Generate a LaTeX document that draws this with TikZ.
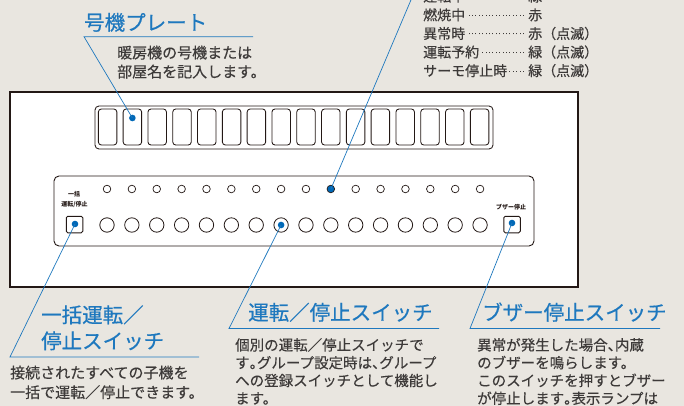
\documentclass[tikz,border=0pt]{standalone}
\usepackage{fontspec}
\setmainfont{Noto Sans CJK JP}
\newfontfamily\jptitle{Noto Sans CJK JP}[FakeBold=0.5]
\newfontfamily\jptext{Noto Sans CJK JP}[FakeBold=0.3]
\XeTeXlinebreaklocale "ja"
\XeTeXlinebreakskip=0pt plus 6pt
\definecolor{bg}{HTML}{E9E6E0}
\definecolor{accent}{HTML}{1E78BE}
\definecolor{dotblue}{HTML}{0068B7}
\definecolor{ink}{HTML}{3D3A39}
\definecolor{frame}{HTML}{231815}
\newcommand\hw[1]{\makebox[.5em][l]{#1}}
\newcommand\lampline[2]{\makebox[105pt][l]{#1\leaders\hbox to 3.4pt{\hss\rule[4.3pt]{1.1pt}{1.1pt}\hss}\hfill}#2}
\tikzset{
  title/.style={anchor=base west, text=accent, font=\jptitle\fontsize{20.5}{20.5}\selectfont, inner sep=0pt},
  desc/.style={anchor=base west, text=ink, font=\jptext\fontsize{15}{15}\selectfont, inner sep=0pt},
  descs/.style={anchor=base west, text=ink, font=\jptext\fontsize{14.5}{14.5}\selectfont, inner sep=0pt},
  lamptext/.style={anchor=base west, text=ink, font=\jptext\fontsize{14}{14}\selectfont, inner sep=0pt},
  tiny/.style={text=frame, font=\bfseries\fontsize{6}{6}\selectfont, inner sep=0pt},
  leader/.style={draw=accent, line width=0.7pt},
  panelframe/.style={draw=frame, line width=1.6pt, fill=white},
  plateframe/.style={draw=frame, line width=0.85pt, rounded corners=4pt},
  plate/.style={draw=frame, line width=0.85pt, rounded corners=3pt, minimum width=18.5pt, minimum height=36pt, inner sep=0pt},
  lampframe/.style={draw=frame, line width=0.9pt, rounded corners=5pt},
  lamp/.style={circle, draw=frame, line width=0.7pt, minimum size=7.6pt, inner sep=0pt},
  btn/.style={circle, draw=frame, line width=0.8pt, minimum size=14.4pt, inner sep=0pt},
  sqbtn/.style={draw=frame, line width=1pt, rounded corners=1.5pt, minimum size=16.5pt, inner sep=0pt},
  dot/.style={circle, fill=dotblue, minimum size=6.6pt, inner sep=0pt},
}
\begin{document}
\begin{tikzpicture}[x=1pt,y=-1pt]
\useasboundingbox (0,0) rectangle (684,406);
\clip (0,0) rectangle (684,406);
\fill[bg] (0,0) rectangle (684,406);

% panel
\draw[panelframe] (10,92) rectangle (578,287);
\draw[plateframe] (95,106) rectangle (493,149);
\foreach \i in {0,...,15}
  \node[plate] (p\i) at ({107.6+\i*24.8},127) {};
\draw[lampframe] (54,176) rectangle (534,246);
\foreach \i in {0,...,15} {
  \ifnum\i=9
    \node[lamp, fill=dotblue] (l\i) at ({107+\i*24.87},189) {};
  \else
    \node[lamp] (l\i) at ({107+\i*24.87},189) {};
  \fi
  \node[btn] (b\i) at ({107+\i*24.87},225) {};
}
\node[sqbtn] (sqL) at (74.5,224.5) {};
\node[sqbtn] (sqR) at (512,224.5) {};
\node[tiny] (lab1) at (74,194) {一括};
\node[tiny] (lab2) at (74.5,204.5) {運転/停止};
\node[tiny] (lab3) at (511,207) {ブザー停止};

% dots
\node[dot] (dplate) at (132.4,118) {};
\node[dot] (dbtn) at (b7) {};
\node[dot] (dsqL) at (75,224) {};
\node[dot] (dsqR) at (512,223) {};

% leaders
\coordinate (u1a) at (253,36.7);
\coordinate (u1b) at (84,36.7);
\draw[leader] (u1a) -- (u1b) -- (dplate.center);
\coordinate (u2) at ({330.8+199*0.424},-10);
\draw[leader] (u2) -- (l9.center);
\coordinate (u3a) at (199,357);
\coordinate (u3b) at (10,357);
\draw[leader] (u3a) -- (u3b) -- (dsqL.center);
\coordinate (u4a) at (439,328.5);
\coordinate (u4b) at (229,328.5);
\draw[leader] (u4a) -- (u4b) -- (dbtn.center);
\coordinate (u5a) at (660,328.5);
\coordinate (u5b) at (470,328.5);
\draw[leader] (u5a) -- (u5b) -- (dsqR.center);

% texts
\node[title] (t1) at (84,30.1) {号機プレート};
\node[desc] (d1a) at (117,58.3) {暖房機の号機または};
\node[desc] (d1b) at (117,77.3) {部屋名を記入します。};

\node[lamptext] (k0) at (423,1.6) {\lampline{運転中}{緑}};
\node[lamptext] (k1) at (423,20.2) {\lampline{燃焼中}{赤}};
\node[lamptext] (k2) at (423,38.8) {\lampline{異常時}{赤（点滅）}};
\node[lamptext] (k3) at (423,57.4) {\lampline{運転予約}{緑（点滅）}};
\node[lamptext] (k4) at (423,76.0) {\lampline{サーモ停止時}{緑（点滅）}};

\node[title] (t3a) at (41,322.6) {一括運転／};
\node[title] (t3b) at (41,348.6) {停止スイッチ};
\node[desc] (d3a) at (10,378.3) {接続されたすべての子機を};
\node[desc] (d3b) at (10,397.9) {一括で運転／停止できます。};

\node[title] (t4) at (248,320.1) {運転／停止スイッチ};
\node[descs] (d4a) at (235,350.4) {\makebox[203pt][s]{個別の運転／停止スイッチで}};
\node[descs] (d4b) at (235,368.2) {\makebox[203pt][s]{す\hw{。}グループ設定時は\hw{、}グループ}};
\node[descs] (d4c) at (235,386.0) {\makebox[203pt][s]{への登録スイッチとして機能し}};
\node[descs] (d4d) at (235,403.8) {ます。};

\node[title] (t5) at (482,320.1) {ブザー停止スイッチ};
\node[descs] (d5a) at (477,350.4) {\makebox[201pt][s]{異常が発生した場合\hw{、}内蔵}};
\node[descs] (d5b) at (477,368.2) {のブザーを鳴らします。};
\node[descs] (d5c) at (477,386.0) {\makebox[201pt][s]{このスイッチを押すとブザー}};
\node[descs] (d5d) at (477,403.8) {\makebox[201pt][s]{が停止します\hw{。}表示ランプは}};
\end{tikzpicture}
\end{document}
